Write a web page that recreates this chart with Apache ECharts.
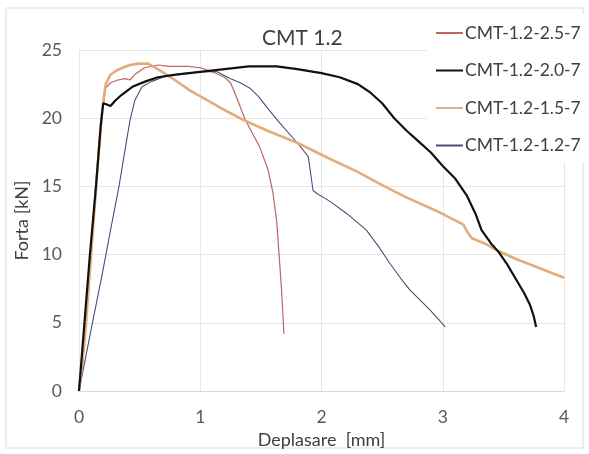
<!DOCTYPE html>
<html>
<head>
<meta charset="utf-8">
<script src="https://cdn.jsdelivr.net/npm/echarts@6/dist/echarts.min.js"></script>
<style>
html,body{margin:0;padding:0;background:#fff;}
#chart{width:589px;height:454px;}
</style>
</head>
<body>
<div id="chart"></div>
<script>
var seriesNames = ['CMT-1.2-2.5-7', 'CMT-1.2-2.0-7', 'CMT-1.2-1.5-7', 'CMT-1.2-1.2-7'];
var xTicks = [0, 1, 2, 3, 4];
var yTicks = [0, 5, 10, 15, 20, 25];

var curve25 = [[0,0],[0.03,2],[0.08,8],[0.13,14],[0.17,19],[0.2,21],[0.22,22.2],[0.26,22.6],[0.32,22.8],[0.38,22.9],[0.42,22.8],[0.46,23.2],[0.54,23.7],[0.65,23.9],[0.75,23.8],[0.9,23.8],[1.0,23.7],[1.1,23.4],[1.2,23.0],[1.25,22.6],[1.31,21.3],[1.37,19.9],[1.43,18.9],[1.49,17.9],[1.56,16.2],[1.6,14.5],[1.63,12.5],[1.65,10],[1.67,7.5],[1.69,4.2]];
var curve20 = [[0,0],[0.045,5],[0.09,10],[0.14,15],[0.18,19.5],[0.2,21.1],[0.23,21.0],[0.26,20.9],[0.3,21.3],[0.35,21.7],[0.44,22.3],[0.55,22.7],[0.65,23.0],[0.8,23.2],[1.0,23.4],[1.2,23.6],[1.4,23.8],[1.63,23.8],[1.8,23.6],[2.0,23.3],[2.15,23.0],[2.3,22.5],[2.4,21.9],[2.5,21.1],[2.6,20.0],[2.7,19.1],[2.8,18.3],[2.9,17.5],[3.0,16.5],[3.1,15.6],[3.2,14.3],[3.27,13.0],[3.32,11.8],[3.4,10.8],[3.46,10.2],[3.53,9.3],[3.61,8.1],[3.67,7.2],[3.72,6.3],[3.75,5.5],[3.77,4.7]];
var curve15 = [[0,0],[0.05,4],[0.1,10],[0.15,16],[0.19,20.5],[0.22,22.5],[0.26,23.2],[0.31,23.5],[0.36,23.7],[0.42,23.9],[0.49,24.0],[0.57,24.0],[0.65,23.6],[0.79,22.8],[0.92,22.0],[1.06,21.3],[1.2,20.6],[1.35,19.9],[1.55,19.1],[1.8,18.2],[2.05,17.1],[2.29,16.1],[2.5,15.1],[2.7,14.2],[2.95,13.2],[3.17,12.2],[3.2,11.7],[3.24,11.2],[3.35,10.8],[3.45,10.3],[3.6,9.7],[3.8,9.0],[4.0,8.3]];
var curve12 = [[0,0],[0.06,2.7],[0.12,5.4],[0.19,8.5],[0.26,11.8],[0.33,15],[0.38,17.7],[0.42,19.8],[0.46,21.3],[0.52,22.3],[0.6,22.7],[0.72,23.1],[0.87,23.3],[1.0,23.4],[1.14,23.4],[1.25,22.9],[1.33,22.6],[1.41,22.2],[1.48,21.6],[1.55,20.8],[1.66,19.6],[1.8,18.2],[1.89,17.2],[1.91,16.0],[1.93,14.7],[1.96,14.5],[2.07,13.9],[2.21,13.0],[2.37,11.8],[2.47,10.6],[2.56,9.4],[2.65,8.3],[2.73,7.4],[2.82,6.6],[2.9,5.9],[2.96,5.3],[3.02,4.7]];

var curves = [curve25, curve20, curve15, curve12];
var colors = ['#bd6664', '#111111', '#e2ad7c', '#4b4f78'];
var widths = [1.2, 2.2, 2.6, 1.1];
var FONT = 'Lato';

var chart = echarts.init(document.getElementById('chart'), null, {renderer: 'canvas'});
var series = seriesNames.map(function (n, i) {
  return {
    name: n, type: 'line', data: curves[i], showSymbol: false, symbol: 'none',
    lineStyle: {color: colors[i], width: widths[i]}, itemStyle: {color: colors[i]},
    z: [21, 23, 22, 21][i], animation: false
  };
});

chart.setOption({
  backgroundColor: '#ffffff',
  animation: false,
  graphic: [{
    type: 'rect', z: -10, silent: true,
    shape: {x: 6, y: 8, width: 577, height: 440},
    style: {fill: '#ffffff', stroke: '#d9d9d9', lineWidth: 1}
  }],
  title: {
    text: 'CMT 1.2', left: 257, top: 23,
    textStyle: {fontFamily: FONT, fontSize: 21, fontWeight: 'normal', color: '#404040'}
  },
  legend: {
    orient: 'vertical', left: 427, top: 14,
    padding: [10, 6, 8, 8],
    backgroundColor: '#ffffff',
    itemWidth: 27, itemHeight: 14, itemGap: 19.5,
    data: seriesNames,
    itemStyle: {color: 'rgba(0,0,0,0)', borderColor: 'rgba(0,0,0,0)', borderWidth: 0, opacity: 0},
    textStyle: {fontFamily: FONT, fontSize: 17.5, color: '#404040', padding: [0, 0, 0, -3]},
    z: 10
  },
  grid: {left: 79, right: 25, top: 50, bottom: 63, containLabel: false},
  xAxis: {
    type: 'value', min: xTicks[0], max: xTicks[xTicks.length - 1], interval: 1,
    name: 'Deplasare  [mm]', nameLocation: 'middle', nameGap: 40,
    nameTextStyle: {fontFamily: FONT, fontSize: 18, color: '#404040'},
    axisLine: {show: true, lineStyle: {color: '#d9d9d9', width: 1}},
    axisTick: {show: false},
    axisLabel: {fontFamily: FONT, fontSize: 17.5, color: '#595959', margin: 17},
    splitLine: {show: true, lineStyle: {color: '#e6e6e6', width: 1}}
  },
  yAxis: {
    type: 'value', min: yTicks[0], max: yTicks[yTicks.length - 1], interval: 5,
    name: 'Forta [kN]', nameLocation: 'middle', nameGap: 47, nameRotate: 90,
    nameTextStyle: {fontFamily: FONT, fontSize: 18, color: '#404040'},
    axisLine: {show: true, lineStyle: {color: '#e6e6e6', width: 1}},
    axisTick: {show: false},
    axisLabel: {fontFamily: FONT, fontSize: 17.5, color: '#595959', margin: 17},
    splitLine: {show: true, lineStyle: {color: '#e6e6e6', width: 1}}
  },
  series: series
});
</script>
</body>
</html>
